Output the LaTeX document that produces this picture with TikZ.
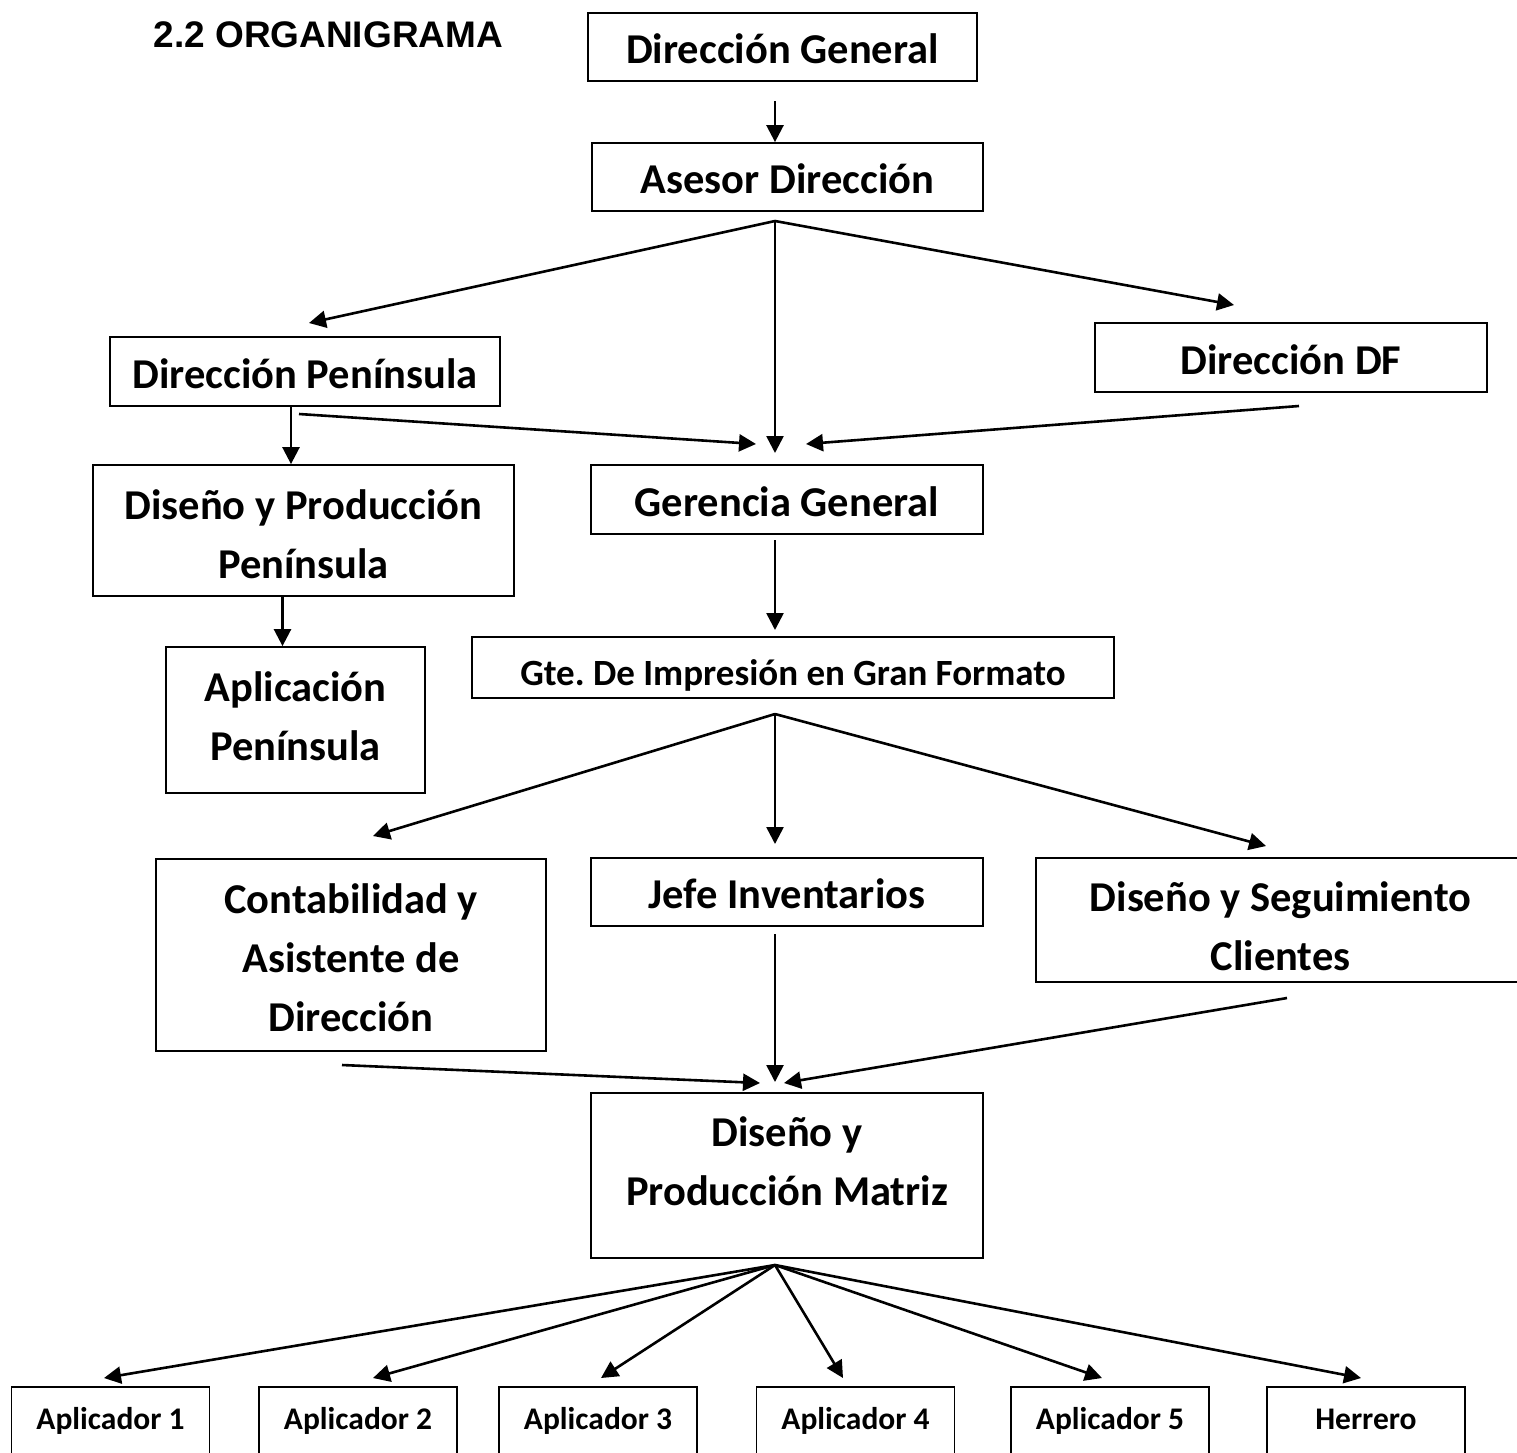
\documentclass[tikz,border=0pt]{standalone}
\usepackage{fontspec}
\setmainfont{Carlito}
\newfontfamily\titlefont{Liberation Sans}
\usetikzlibrary{arrows.meta, positioning, calc}

\begin{document}
\begin{tikzpicture}[x=1pt, y=-1pt]
    \tikzstyle{unit} = [rectangle, draw=black, line width=1.8pt, inner sep=0pt, font=\fontsize{42.5}{59}\selectfont\bfseries]
    \tikzstyle{single} = [unit, text height=33pt, text depth=0pt]
    \tikzstyle{multi} = [unit, align=center]
    \tikzstyle{small} = [unit, font=\fontsize{37}{44}\selectfont\bfseries, text height=35pt, text depth=0pt]
    \tikzstyle{leaf} = [unit, font=\fontsize{31.5}{40}\selectfont\bfseries, minimum width=198pt, minimum height=70pt, text height=14pt, text depth=0pt]
    \tikzstyle{arrow} = [line width=2.6pt, -{Triangle[length=17pt,width=17pt]}]
    \useasboundingbox (0,0) rectangle (1517,1452);

    \node[anchor=base west, font=\titlefont\fontsize{37}{44}\selectfont\bfseries] (title) at (150,47) {2.2 ORGANIGRAMA};

    \node[single, minimum width=389pt, minimum height=68pt] (dg) at (782.5,47) {Dirección General};
    \node[single, minimum width=391pt, minimum height=68pt] (ad) at (787.5,177) {Asesor Dirección};
    \node[single, minimum width=390pt, minimum height=69pt] (dp) at (305,371.5) {Dirección Península};
    \node[single, minimum width=392pt, minimum height=69pt] (ddf) at (1291,357.5) {Dirección DF};
    \node[multi, minimum width=421pt, minimum height=131pt] (dpp) at (303.5,530.5) {\rule{0pt}{37pt}Diseño y Producción\\Península};
    \node[single, minimum width=392pt, minimum height=69pt] (gg) at (787,499.5) {Gerencia General};
    \node[multi, minimum width=259pt, minimum height=146pt] (ap) at (295.5,720) {\rule{0pt}{35pt}Aplicación\\Península\rule[-14pt]{0pt}{0pt}};
    \node[small, minimum width=642pt, minimum height=61pt] (gte) at (793,667.5) {Gte.\ De Impresión en Gran Formato};
    \node[multi, minimum width=390pt, minimum height=192pt] (ca) at (351,955) {\rule{0pt}{35pt}Contabilidad y\\Asistente de\\Dirección};
    \node[single, minimum width=392pt, minimum height=68pt] (ji) at (787,892) {Jefe Inventarios};
    \node[multi, minimum width=489pt, minimum height=124pt] (dsc) at (1280.5,920) {\rule{0pt}{43pt}Diseño y Seguimiento\\Clientes};
    \node[multi, minimum width=392pt, minimum height=165pt] (dpm) at (787,1175.5) {\rule{0pt}{35pt}Diseño y\\Producción Matriz\rule[-34pt]{0pt}{0pt}};

    \foreach \n/\x in {1/110.5, 2/358, 3/598, 4/855.5, 5/1110}
        \node[leaf] (a\n) at (\x,1422) {Aplicador \n};
    \node[leaf] (her) at (1366,1422) {Herrero};

    \coordinate (dg-out) at (775,101);
    \coordinate (ad-out) at (775,221);
    \coordinate (dp-in) at (309,323);
    \coordinate (ddf-in) at (1234,305);
    \coordinate (gg-in) at (775,453);
    \coordinate (dp-out) at (291,406);
    \coordinate (dp-side) at (299,414);
    \coordinate (gg-inl) at (756,444);
    \coordinate (ddf-out) at (1299,406);
    \coordinate (gg-inr) at (806,444);
    \coordinate (dpp-out) at (282.5,596);
    \coordinate (gg-out) at (775,540);
    \coordinate (gte-in) at (775,630);
    \coordinate (gte-out) at (775,714);
    \coordinate (ca-in) at (373,836);
    \coordinate (ji-in) at (775,844);
    \coordinate (dsc-in) at (1266,846);
    \coordinate (ji-out) at (775,934);
    \coordinate (dpm-in) at (775,1082);
    \coordinate (ca-out) at (342,1065);
    \coordinate (dpm-inl) at (760,1083);
    \coordinate (dsc-out) at (1287,998);
    \coordinate (dpm-inr) at (784,1083);
    \coordinate (dpm-out) at (775,1265);

    \draw[arrow] (dg-out) -- (dg-out |- ad.north);
    \draw[arrow] (ad-out) -- (dp-in);
    \draw[arrow] (ad-out) -- (gg-in);
    \draw[arrow] (ad-out) -- (ddf-in);
    \draw[arrow] (dp-out) -- (dp-out |- dpp.north);
    \draw[arrow] (dp-side) -- (gg-inl);
    \draw[arrow] (ddf-out) -- (gg-inr);
    \draw[arrow] (dpp-out) -- (dpp-out |- ap.north);
    \draw[arrow] (gg-out) -- (gte-in);
    \draw[arrow] (gte-out) -- (ca-in);
    \draw[arrow] (gte-out) -- (ji-in);
    \draw[arrow] (gte-out) -- (dsc-in);
    \draw[arrow] (ji-out) -- (dpm-in);
    \draw[arrow] (ca-out) -- (dpm-inl);
    \draw[arrow] (dsc-out) -- (dpm-inr);
    \foreach \t/\x in {a1/104, a2/373, a3/601, a4/843, a5/1102, her/1361} {
        \coordinate (\t-in) at (\x,1378);
        \draw[arrow] (dpm-out) -- (\t-in);
    }
\end{tikzpicture}
\end{document}
